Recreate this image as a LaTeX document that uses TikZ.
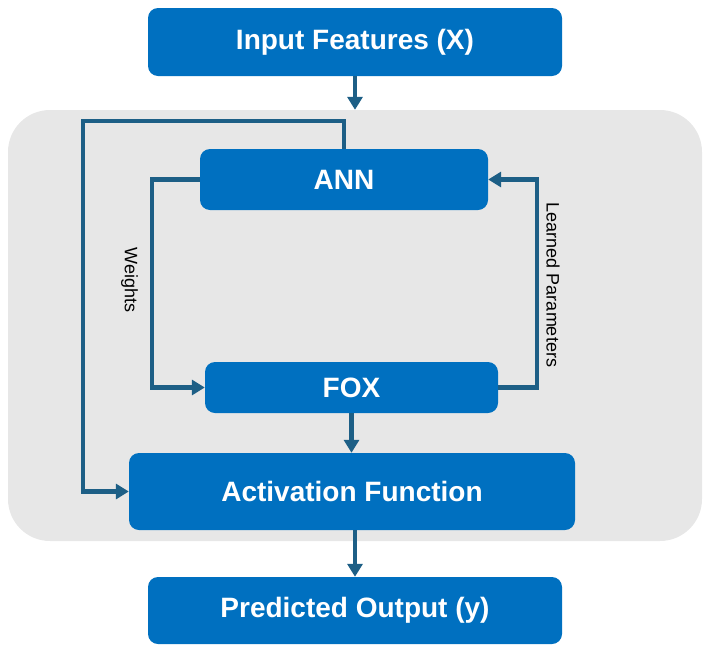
\documentclass[tikz,border=0pt]{standalone}
\usepackage{fontspec}
\setmainfont{Liberation Sans}
\usetikzlibrary{arrows.meta}
\definecolor{boxblue}{HTML}{0070C0}
\definecolor{arrowc}{HTML}{1D5F86}
\definecolor{panelgray}{HTML}{E7E7E7}
\tikzset{
  blockbox/.style={fill=boxblue, draw=none, rounded corners=10pt, text=white,
    font=\fontsize{28}{32}\selectfont\bfseries, inner sep=0pt},
  panelbox/.style={fill=panelgray, draw=none, rounded corners=42pt, inner sep=0pt},
  arr/.style={draw=arrowc, line width=4.2pt, -{Triangle[length=13pt,width=15pt]}},
  lbl/.style={font=\fontsize{18}{20}\selectfont, text=black, rotate=-90, inner sep=0pt}
}
\begin{document}
\begin{tikzpicture}[x=1pt,y=-1pt]
\useasboundingbox (0,0) rectangle (710,651);
\node[panelbox, minimum width=694pt, minimum height=431pt] (panel) at (355,325.5) {};
\node[blockbox, minimum width=414pt, minimum height=68pt] (in) at (355,42) {Input Features (X)};
\node[blockbox, minimum width=288pt, minimum height=61pt] (ann) at (344,179.5) {ANN};
\node[blockbox, minimum width=293pt, minimum height=51pt] (fox) at (351.5,387.5) {FOX};
\node[blockbox, minimum width=446pt, minimum height=77pt] (act) at (352,491.5) {Activation Function};
\node[blockbox, minimum width=414pt, minimum height=67pt] (pred) at (355,610.5) {Predicted Output (y)};
\coordinate (lp) at (83,121);
\coordinate (wk) at (152,0);
\coordinate (lk) at (537,0);
% input to panel
\draw[arr] (in.south) -- (in.south |- panel.north);
% outer loop
\draw[arr] (ann.north) |- (lp) |- (act.west);
% weights
\draw[arr] (ann.west) -- (wk |- ann.west) -- (wk |- fox.west) -- (fox.west);
% learned parameters
\draw[arr] (fox.east) -- (lk |- fox.east) -- (lk |- ann.east) -- (ann.east);
% fox to activation
\draw[arr] (fox.south) -- (fox.south |- act.north);
% activation to output
\draw[arr] (pred.north |- act.south) -- (pred.north);
\node[lbl] (wl) at (129.5,280) {Weights};
\node[lbl] (ll) at (553,285) {Learned Parameters};
\end{tikzpicture}
\end{document}
